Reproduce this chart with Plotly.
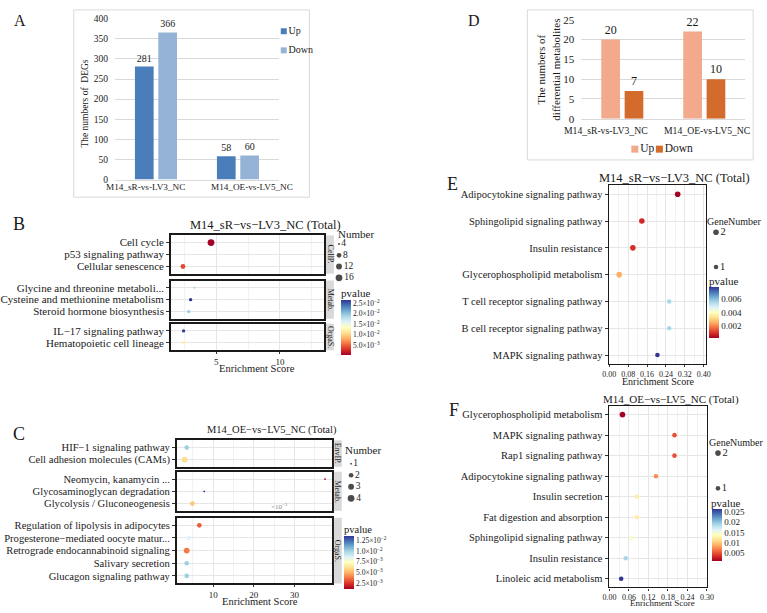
import plotly.graph_objects as go

W, H = 767, 613
FONT = "Liberation Serif"
INK = "#1a1a1a"


def fx(p):
    return p / W


def fy(p):
    return 1 - p / H


def dx(a, b):
    return [a / W, b / W]


def dy(top, bottom):
    return [1 - bottom / H, 1 - top / H]


# ---------------- data ----------------
comparisons = ["M14_sR-vs-LV3_NC", "M14_OE-vs-LV5_NC"]
series_names = ["Up", "Down"]
deg_up = [281, 58]
deg_down = [366, 60]
met_up = [20, 22]
met_down = [7, 10]

b_pathway = ["Cell cycle", "p53 signaling pathway", "Cellular senescence",
             "Glycine and threonine metaboli...", "Cysteine and methionine metabolism",
             "Steroid hormone biosynthesis",
             "IL−17 signaling pathway", "Hematopoietic cell lineage"]
b_class = ["CellP.", "CellP.", "CellP.", "Metab.", "Metab.", "Metab.", "OrgaS.", "OrgaS."]
b_score = [4.6, 2.9, 2.4, 3.3, 3.0, 2.85, 2.45, 2.45]
b_number = [16, 4, 8, 4, 5, 5, 5, 5]
b_pvalue = [0.0003, 0.016, 0.004, 0.019, 0.0265, 0.0195, 0.026, 0.0125]
b_keys = [4, 8, 12, 16]
b_classes = ["CellP.", "Metab.", "OrgaS."]

c_pathway = ["HIF−1 signaling pathway", "Cell adhesion molecules (CAMs)",
             "Neomycin, kanamycin ...", "Glycosaminoglycan degradation",
             "Glycolysis / Gluconeogenesis",
             "Regulation of lipolysis in adipocytes", "Progesterone−mediated oocyte matur...",
             "Retrograde endocannabinoid signaling", "Salivary secretion",
             "Glucagon signaling pathway"]
c_class = ["EnvIP.", "EnvIP.", "Metab.", "Metab.", "Metab.",
           "OrgaS.", "OrgaS.", "OrgaS.", "OrgaS.", "OrgaS."]
c_score = [3.5, 3.0, 37.5, 7.8, 4.9, 6.6, 4.0, 3.5, 3.5, 3.5]
c_number = [2, 3, 1, 1, 2, 2, 2, 3, 2, 2]
c_pvalue = [0.0100, 0.0060, 0.0011, 0.0134, 0.0054, 0.0032, 0.0085, 0.0038, 0.0100, 0.0100]
c_keys = [1, 2, 3, 4]
c_classes = ["EnvIP.", "Metab.", "OrgaS."]

e_pathway = ["Adipocytokine signaling pathway", "Sphingolipid signaling pathway",
             "Insulin resistance", "Glycerophospholipid metabolism",
             "T cell receptor signaling pathway", "B cell receptor signaling pathway",
             "MAPK signaling pathway"]
e_score = [0.29, 0.138, 0.10, 0.042, 0.254, 0.254, 0.204]
e_number = [2, 2, 2, 2, 1, 1, 1]
e_pvalue = [0.00005, 0.0007, 0.0008, 0.0024, 0.0055, 0.0055, 0.0078]

f_pathway = ["Glycerophospholipid metabolism", "MAPK signaling pathway",
             "Rap1 signaling pathway", "Adipocytokine signaling pathway",
             "Insulin secretion", "Fat digestion and absorption",
             "Sphingolipid signaling pathway", "Insulin resistance",
             "Linoleic acid metabolism"]
f_score = [0.040, 0.200, 0.200, 0.143, 0.084, 0.084, 0.068, 0.050, 0.036]
f_number = [2, 1, 1, 1, 1, 1, 1, 1, 1]
f_pvalue = [0.0011, 0.005, 0.005, 0.0075, 0.0125, 0.0125, 0.0143, 0.019, 0.0265]
gene_keys = [2, 1]

# ---------------- styles ----------------
A_COLORS = ["#4A7EBB", "#95B3D7"]
D_COLORS = ["#F2A98C", "#D26B2C"]
RDYLBU = ['#a50026', '#d73027', '#f46d43', '#fdae61', '#fee090', '#ffffbf',
          '#e0f3f8', '#abd9e9', '#74add1', '#4575b4', '#313695']
CSCALE = [[i / 10, c] for i, c in enumerate(RDYLBU)]
GRID = "#E6E6E6"
MINOR = "#F2F2F2"


def size_area(n, nmin, nmax, dmin, dmax):
    return dmin + (dmax - dmin) * ((n - nmin) / (nmax - nmin)) ** 0.5


def size_b(n):
    return size_area(n, 4, 16, 2.0, 6.8)


def size_c(n):
    return size_area(n, 1, 4, 1.8, 6.8)


def size_g(n):
    return 3.6 + n * 1.0


fig = go.Figure()
layout = dict(width=W, height=H, margin=dict(l=0, r=0, t=0, b=0, pad=0),
              paper_bgcolor="white", plot_bgcolor="white",
              font=dict(family=FONT, color=INK),
              barmode="group", bargap=0.43, bargroupgap=0.2, showlegend=False)

anns = []


def ann(text, x, y, size, xanchor="center", yanchor="middle", angle=0, color=INK):
    anns.append(dict(text=text, x=fx(x), y=fy(y), xref="paper", yref="paper", showarrow=False,
                     font=dict(size=size, color=color, family=FONT), xanchor=xanchor,
                     yanchor=yanchor, textangle=angle, borderpad=0))


# ---------------- Panel A ----------------
for nm, vals, col in zip(series_names, [deg_up, deg_down], A_COLORS):
    fig.add_trace(go.Bar(x=comparisons, y=vals, name=nm, marker=dict(color=col, line_width=0),
                         text=vals, textposition="outside", constraintext="none",
                         textfont=dict(size=10, color=INK), cliponaxis=False,
                         xaxis="x", yaxis="y"))
layout["xaxis"] = dict(domain=dx(110, 277), anchor="y", type="category", tickangle=0,
                       showline=True, linecolor="#D9D9D9", linewidth=1, ticks="",
                       showgrid=False, showticklabels=False)
layout["yaxis"] = dict(domain=dy(13, 177), anchor="x", range=[0, 400], dtick=50,
                       showgrid=True, gridcolor="#D9D9D9", gridwidth=1, ticks="",
                       zeroline=False, showline=False, ticklabelstandoff=6,
                       tickfont=dict(size=9.5, color=INK))
# Excel-style category labels (spread apart like in the original)
for lab, cx in zip(comparisons, [141, 250]):
    ann(lab, cx, 185, 9.2)

# ---------------- Panel D ----------------
for nm, vals, col in zip(series_names, [met_up, met_down], D_COLORS):
    fig.add_trace(go.Bar(x=comparisons, y=vals, name=nm, marker=dict(color=col, line_width=0),
                         text=vals, textposition="outside", constraintext="none",
                         textfont=dict(size=12, color=INK), cliponaxis=False,
                         xaxis="x2", yaxis="y2"))
layout["xaxis2"] = dict(domain=dx(585, 752), anchor="y2", type="category", tickangle=0,
                        showline=True, linecolor="#D9D9D9", linewidth=1, ticks="",
                        showgrid=False, showticklabels=False)
layout["yaxis2"] = dict(domain=dy(14, 115), anchor="x2", range=[0, 25], dtick=5,
                        showgrid=True, gridcolor="#D9D9D9", gridwidth=1, ticks="",
                        zeroline=False, showline=False, ticklabelstandoff=6,
                        tickfont=dict(size=11, color=INK))
for lab, cx in zip(comparisons, [610, 713]):
    ann(lab, cx, 127, 9.7)

# legend keys for bar charts (drawn on small hidden axes)
fig.add_trace(go.Scatter(x=[1.3] * 2, y=series_names, mode="markers+text", text=series_names,
                         textposition="middle right", textfont=dict(size=10, color=INK),
                         marker=dict(symbol="square", size=6, color=A_COLORS, line=dict(width=0)),
                         xaxis="x15", yaxis="y15", cliponaxis=False, hoverinfo="skip"))
layout["xaxis15"] = dict(domain=dx(278, 308), anchor="y15", range=[0, 10], visible=False)
layout["yaxis15"] = dict(domain=dy(16, 55), anchor="x15", type="category",
                         categoryorder="array", categoryarray=series_names,
                         range=[1.5, -0.5], visible=False)
fig.add_trace(go.Scatter(x=series_names, y=[0, 0], mode="markers+text", text=series_names,
                         textposition="middle right", textfont=dict(size=11.5, color=INK),
                         marker=dict(symbol="square", size=7, color=D_COLORS, line=dict(width=0)),
                         xaxis="x16", yaxis="y16", cliponaxis=False, hoverinfo="skip"))
layout["xaxis16"] = dict(domain=dx(627, 677), anchor="y16", type="category",
                         categoryorder="array", categoryarray=series_names,
                         range=[-0.5, 1.5], visible=False)
layout["yaxis16"] = dict(domain=dy(140, 152), anchor="x16", range=[-1, 1], visible=False)


# ---------------- facet helpers ----------------
def facet(idx, xdom, ytop, ybot, xr, cats, pad, bottom, dtick, minor, fmt=None,
          lw=1.6, yfont=11, xfont=9.5):
    xn, yn = f"xaxis{idx}", f"yaxis{idx}"
    layout[xn] = dict(domain=dx(*xdom), anchor=f"y{idx}", range=xr, tick0=0, dtick=dtick,
                      tickangle=0,
                      showgrid=True, gridcolor=GRID, gridwidth=1,
                      minor=dict(dtick=minor, tick0=0, showgrid=True, gridcolor=MINOR, gridwidth=0.7),
                      showline=True, mirror=True, linecolor=INK, linewidth=lw,
                      ticks="outside" if bottom else "", ticklen=2, tickcolor="#333",
                      showticklabels=bottom, tickfont=dict(size=xfont, color=INK),
                      zeroline=False, tickformat=fmt)
    n = len(cats)
    layout[yn] = dict(domain=dy(ytop, ybot), anchor=f"x{idx}", type="category",
                      categoryorder="array", categoryarray=cats,
                      tickmode="array", tickvals=cats, ticktext=cats,
                      range=[n - 1 + pad, -pad], showgrid=True, gridcolor=GRID, gridwidth=1,
                      showline=True, mirror=True, linecolor=INK, linewidth=lw,
                      ticks="outside", ticklen=3, tickcolor="#333",
                      tickfont=dict(size=yfont, color=INK), zeroline=False)


def add_points(idx, paths, scores, nums, pvals, sizefn, cax):
    fig.add_trace(go.Scatter(x=scores, y=paths, mode="markers",
                             marker=dict(size=[sizefn(n) for n in nums], color=pvals,
                                         coloraxis=cax, line=dict(width=0), opacity=1),
                             xaxis=f"x{idx}", yaxis=f"y{idx}", cliponaxis=False))


def add_size_key(idx, keys, sizefn, xdom, ytop, ybot, xpos, fsize):
    ks = [str(k) for k in keys]
    fig.add_trace(go.Scatter(x=[xpos] * len(keys), y=ks, mode="markers+text", text=ks,
                             textposition="middle right", textfont=dict(size=fsize, color=INK),
                             marker=dict(size=[sizefn(k) for k in keys], color="black", line=dict(width=0)),
                             xaxis=f"x{idx}", yaxis=f"y{idx}", cliponaxis=False,
                             hoverinfo="skip"))
    layout[f"xaxis{idx}"] = dict(domain=dx(*xdom), anchor=f"y{idx}", range=[0, 10], visible=False)
    layout[f"yaxis{idx}"] = dict(domain=dy(ytop, ybot), anchor=f"x{idx}", type="category",
                                 categoryorder="array", categoryarray=ks,
                                 range=[len(ks) - 0.5, -0.5], visible=False)


# ---------------- Panel B ----------------
b_rows = [(234, 273), (280, 319), (324, 351)]
for i, cl in enumerate(b_classes):
    idx = 3 + i
    sel = [k for k, c in enumerate(b_class) if c == cl]
    cats = [b_pathway[k] for k in sel]
    facet(idx, (167, 323), b_rows[i][0], b_rows[i][1], [1.46, 13.46], cats, 0.6,
          i == len(b_classes) - 1, 5, 2.5, xfont=9)
    add_points(idx, cats, [b_score[k] for k in sel], [b_number[k] for k in sel],
               [b_pvalue[k] for k in sel], size_b, "coloraxis")

# ---------------- Panel C ----------------
c_rows = [(443, 470), (475, 515), (522, 589)]
for i, cl in enumerate(c_classes):
    idx = 6 + i
    sel = [k for k, c in enumerate(c_class) if c == cl]
    cats = [c_pathway[k] for k in sel]
    facet(idx, (173, 331), c_rows[i][0], c_rows[i][1], [1.08, 39.2], cats, 0.6,
          i == len(c_classes) - 1, 10, 5, yfont=10.6, xfont=9)
    add_points(idx, cats, [c_score[k] for k in sel], [c_number[k] for k in sel],
               [c_pvalue[k] for k in sel], size_c, "coloraxis2")

# ---------------- Panel E ----------------
facet(9, (613, 712), 183, 365, [-0.002, 0.41], e_pathway, 0.33, True, 0.08, 0.04,
      fmt=".2f", lw=1.4, yfont=10.5, xfont=8)
add_points(9, e_pathway, e_score, e_number, e_pvalue, size_g, "coloraxis3")

# ---------------- Panel F ----------------
facet(10, (613, 713), 408, 593, [-0.002, 0.30], f_pathway, 0.42, True, 0.06, 0.03,
      fmt=".2f", lw=1.4, yfont=10.5, xfont=8)
add_points(10, f_pathway, f_score, f_number, f_pvalue, size_g, "coloraxis4")

# ---------------- size keys ----------------
add_size_key(11, b_keys, size_b, (333, 370), 237, 283, 1.4, 9.5)
add_size_key(12, c_keys, size_c, (344, 380), 461, 508, 1.8, 9.5)
add_size_key(13, gene_keys, size_g, (715, 755), 213, 284, 1.8, 10.5)
add_size_key(14, gene_keys, size_g, (717, 757), 438, 510, 1.8, 10.5)


# ---------------- colour axes ----------------
def sci(v):
    m, e = f"{v:.1e}".split("e")
    return f"{m}×10<sup>−{abs(int(e))}</sup>"


def cax(xl, ytop, length, tv, tt, fsize):
    return dict(colorscale=CSCALE, showscale=True,
                colorbar=dict(x=fx(xl), xanchor="left", y=fy(ytop), yanchor="top",
                              len=length, lenmode="pixels", thickness=10, thicknessmode="pixels",
                              xpad=0, ypad=0, outlinewidth=0, ticks="", tickvals=tv, ticktext=tt,
                              tickfont=dict(size=fsize, color=INK)))


b_ticks = [0.005, 0.010, 0.015, 0.020, 0.025]
c_ticks = [0.0025, 0.005, 0.0075, 0.010, 0.0125]
e_ticks = [0.002, 0.004, 0.006]
f_ticks = [0.005, 0.010, 0.015, 0.020, 0.025]
layout["coloraxis"] = cax(340, 300, 55, b_ticks, [sci(v) for v in b_ticks], 7.5)
layout["coloraxis2"] = cax(343, 541, 53, c_ticks,
                           ["2.5×10<sup>−3</sup>", "5.0×10<sup>−3</sup>", "7.5×10<sup>−3</sup>",
                            "1.0×10<sup>−2</sup>", "1.25×10<sup>−2</sup>"], 7.5)
layout["coloraxis3"] = cax(715, 287, 51, e_ticks, ["0.002", "0.004", "0.006"], 9)
layout["coloraxis4"] = cax(718, 513, 52, f_ticks, ["0.005", "0.01", "0.015", "0.02", "0.025"], 9)

# ---------------- annotations & shapes ----------------
ann("A", 13, 15, 16)
ann("B", 12, 222, 18)
ann("C", 12, 437, 18)
ann("D", 476, 15, 16)
ann("E", 454, 182, 18)
ann("F", 455, 412, 18)

ann("The numbers of  DEGs", 80, 100, 9.5, angle=-90)
ann("The numbers of<br>differential metabolites", 551, 65, 11, angle=-90)

ann("M14_sR−vs−LV3_NC (Total)", 263, 223, 12.5)
ann("M14_OE−vs−LV5_NC (Total)", 270, 432, 10.5)
ann("M14_sR−vs−LV3_NC (Total)", 680, 175, 12.5)
ann("M14_OE−vs−LV5_NC (Total)", 676, 401, 11)

ann("Enrichment Score", 255, 370, 10.5)
ann("Enrichment Score", 258, 607, 10.5)
ann("Enrichment Score", 663, 383, 10)
ann("Enrichment Score", 668, 609, 9)

ann("Number", 336, 233, 11, xanchor="left")
ann("Number", 343, 453, 11, xanchor="left")
ann("GeneNumber", 712, 220, 10, xanchor="left")
ann("GeneNumber", 714, 445, 10, xanchor="left")
ann("pvalue", 339, 293, 11, xanchor="left")
ann("pvalue", 342, 534, 10.5, xanchor="left")
ann("pvalue", 714, 280, 11, xanchor="left")
ann("pvalue", 716, 507, 11, xanchor="left")
ann("×10<sup>−3</sup>", 278, 511, 7, color="#888888")

shapes = [
    dict(type="rect", xref="paper", yref="paper", x0=fx(68), x1=fx(308), y0=fy(195), y1=fy(4),
         line=dict(color="#D9D9D9", width=1), fillcolor="rgba(0,0,0,0)", layer="below"),
    dict(type="rect", xref="paper", yref="paper", x0=fx(530), x1=fx(760), y0=fy(157), y1=fy(4),
         line=dict(color="#D9D9D9", width=1), fillcolor="rgba(0,0,0,0)", layer="below"),
]
for (top, bot), lab in zip(b_rows, b_classes):
    shapes.append(dict(type="rect", xref="paper", yref="paper", x0=fx(325), x1=fx(333),
                       y0=fy(bot), y1=fy(top), fillcolor="#D9D9D9", line=dict(width=0)))
    ann(lab, 329, (top + bot) / 2, 8, angle=90)
for (top, bot), lab in zip(c_rows, c_classes):
    shapes.append(dict(type="rect", xref="paper", yref="paper", x0=fx(333), x1=fx(341),
                       y0=fy(bot), y1=fy(top), fillcolor="#D9D9D9", line=dict(width=0)))
    ann(lab, 337, (top + bot) / 2, 8, angle=90)

layout["annotations"] = anns
layout["shapes"] = shapes
fig.update_layout(**layout)
fig.write_html("out.html")
